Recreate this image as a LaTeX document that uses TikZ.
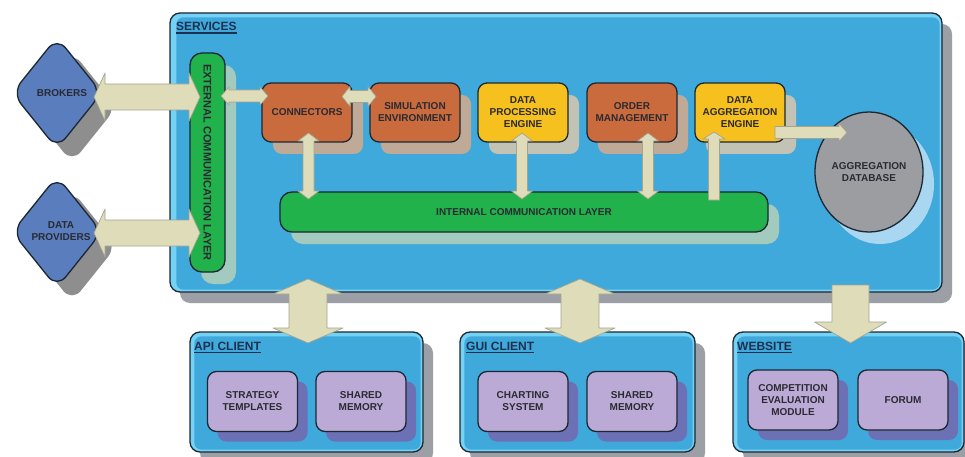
\documentclass[tikz,border=0pt]{standalone}
\usepackage{fontspec}
\setmainfont{Liberation Sans}
\usetikzlibrary{shapes.geometric,shadows,calc}
\definecolor{svcout}{HTML}{74D2F4}
\definecolor{svcin}{HTML}{40A9DB}
\definecolor{edge}{HTML}{1B2733}
\definecolor{svcsh}{HTML}{9D9FA6}
\definecolor{grn}{HTML}{22B24C}
\definecolor{grnsh}{HTML}{A3CABF}
\definecolor{orng}{HTML}{C96B3D}
\definecolor{orsh}{HTML}{BFAA98}
\definecolor{ylw}{HTML}{F6C01E}
\definecolor{ylsh}{HTML}{C3C3B5}
\definecolor{dbc}{HTML}{9C9DA1}
\definecolor{dbsh}{HTML}{A9D6F0}
\definecolor{diac}{HTML}{5A7DBD}
\definecolor{diash}{HTML}{8E8E8E}
\definecolor{prp}{HTML}{BCAAD6}
\definecolor{prpsh}{HTML}{6C70B5}
\definecolor{arrf}{HTML}{DFDDB9}
\definecolor{arre}{HTML}{A3A390}
\definecolor{txtc}{HTML}{2A2A33}
\definecolor{ttlc}{HTML}{1E3050}
\newcommand\HArrowD[6]{%
 \draw[blk] (#1,#3) -- ({#1+#6},{#3-#5}) -- ({#1+#6},{#3-#4}) -- ({#2-#6},{#3-#4}) -- ({#2-#6},{#3-#5}) -- (#2,#3) -- ({#2-#6},{#3+#5}) -- ({#2-#6},{#3+#4}) -- ({#1+#6},{#3+#4}) -- ({#1+#6},{#3+#5}) -- cycle;}
\newcommand\HArrowS[6]{%
 \draw[blk] (#1,{#3-#4}) -- ({#2-#6},{#3-#4}) -- ({#2-#6},{#3-#5}) -- (#2,#3) -- ({#2-#6},{#3+#5}) -- ({#2-#6},{#3+#4}) -- (#1,{#3+#4}) -- cycle;}
\newcommand\VArrowD[6]{%
 \draw[blk] (#3,#1) -- ({#3+#5},{#1+#6}) -- ({#3+#4},{#1+#6}) -- ({#3+#4},{#2-#6}) -- ({#3+#5},{#2-#6}) -- (#3,#2) -- ({#3-#5},{#2-#6}) -- ({#3-#4},{#2-#6}) -- ({#3-#4},{#1+#6}) -- ({#3-#5},{#1+#6}) -- cycle;}
\newcommand\VArrowS[6]{%
 \draw[blk] ({#3-#4},#1) -- ({#3-#4},{#2-#6}) -- ({#3-#5},{#2-#6}) -- (#3,#2) -- ({#3+#5},{#2-#6}) -- ({#3+#4},{#2-#6}) -- ({#3+#4},#1) -- cycle;}
\begin{document}
\begin{tikzpicture}[x=1pt,y=-1pt,
  blk/.style={fill=arrf, draw=arre, line width=0.7pt, line join=round},
  txt/.style={font=\bfseries\fontsize{10}{12}\selectfont, text=txtc, align=center, inner sep=0},
  ttl/.style={font=\bfseries\fontsize{12}{14}\selectfont, text=ttlc, inner sep=0, anchor=base west},
  boxbase/.style={draw=edge, line width=1.3pt, rounded corners=9pt, minimum width=90pt, minimum height=59pt, inner sep=0, align=center, font=\bfseries\fontsize{10}{12}\selectfont, text=txtc},
  obox/.style={boxbase, fill=orng, drop shadow={shadow xshift=11pt, shadow yshift=-12pt, fill=orsh, opacity=1}},
  ybox/.style={boxbase, fill=ylw, drop shadow={shadow xshift=11pt, shadow yshift=-12pt, fill=ylsh, opacity=1}},
  pbox/.style={boxbase, fill=prp, minimum height=60pt, drop shadow={shadow xshift=10pt, shadow yshift=-10pt, fill=prpsh, opacity=1}},
  layer/.style={draw=edge, line width=1.3pt, fill=grn, rounded corners=12pt, inner sep=0, drop shadow={shadow xshift=11pt, shadow yshift=-12pt, fill=grnsh, opacity=1}},
  dia/.style={diamond, draw=edge, line width=1.3pt, fill=diac, rounded corners=14pt, minimum width=90pt, minimum height=112pt, inner sep=0, drop shadow={shadow xshift=15pt, shadow yshift=-14pt, fill=diash, opacity=1}},
  container/.style={draw=edge, line width=1.3pt, fill=svcout, rounded corners=10pt, inner sep=0, drop shadow={shadow xshift=10pt, shadow yshift=-11pt, fill=svcsh, opacity=1}},
  ]
\useasboundingbox[fill=white] (0,0) rectangle (965,457);

% ---------- services container
\node[container, minimum width=772pt, minimum height=279pt] (svc) at (556,152.5) {};
\fill[svcin, rounded corners=7pt] ($(svc.north west)+(7,5)$) rectangle ($(svc.south east)+(-3,-3)$);
\node[ttl] (svct) at (176,30.5) {SERVICES};
\draw[ttlc, line width=1.4pt] ($(svct.base west)+(0,2.5)$) -- ($(svct.base east)+(0,2.5)$);

% ---------- layers
\node[layer, minimum width=35pt, minimum height=219pt] (ext) at (207.5,162.5) {};
\node[txt, font=\bfseries\fontsize{11}{12}\selectfont, rotate=-90] at (ext) {EXTERNAL COMMUNICATION LAYER};
\node[layer, minimum width=488pt, minimum height=40pt, font=\bfseries\fontsize{10}{12}\selectfont, text=txtc] (int) at (524,212) {INTERNAL COMMUNICATION LAYER};

% ---------- inner boxes
\node[obox] (conn) at (307,112.5) {CONNECTORS};
\node[obox] (sim) at (415,112.5) {SIMULATION\\ENVIRONMENT};
\node[ybox] (dpe) at (523,112.5) {DATA\\PROCESSING\\ENGINE};
\node[obox] (ord) at (632,112.5) {ORDER\\MANAGEMENT};
\node[ybox] (dae) at (740,112.5) {DATA\\AGGREGATION\\ENGINE};

% ---------- database
\node[ellipse, draw=edge, line width=1.3pt, fill=dbc, minimum width=108pt, minimum height=120pt, inner sep=0, drop shadow={shadow xshift=11pt, shadow yshift=-12pt, fill=dbsh, opacity=1}] (db) at (869,172) {};
\node[txt] at (db) {AGGREGATION\\DATABASE};

% ---------- external actors
\node[dia] (brk) at (57,93) {};
\node[txt] at (62,93) {BROKERS};
\node[dia] (dp) at (57,232) {};
\node[txt] at (61,231.5) {DATA\\PROVIDERS};

% ---------- clients
\node[container, minimum width=233pt, minimum height=120pt] (api) at (306.5,392) {};
\fill[svcin, rounded corners=7pt] ($(api.north west)+(5,5)$) rectangle ($(api.south east)+(-3,-3)$);
\node[ttl] (apit) at (194,350) {API CLIENT};
\draw[ttlc, line width=1.4pt] ($(apit.base west)+(0,2.5)$) -- ($(apit.base east)+(0,2.5)$);
\node[pbox] (st) at (252.5,401.5) {STRATEGY\\TEMPLATES};
\node[pbox] (sm1) at (361,401.5) {SHARED\\MEMORY};

\node[container, minimum width=235pt, minimum height=120pt] (gui) at (577.5,392) {};
\fill[svcin, rounded corners=7pt] ($(gui.north west)+(5,5)$) rectangle ($(gui.south east)+(-3,-3)$);
\node[ttl] (guit) at (466,350) {GUI CLIENT};
\draw[ttlc, line width=1.4pt] ($(guit.base west)+(0,2.5)$) -- ($(guit.base east)+(0,2.5)$);
\node[pbox] (cs) at (523,401.5) {CHARTING\\SYSTEM};
\node[pbox] (sm2) at (632,401.5) {SHARED\\MEMORY};

\node[container, minimum width=231pt, minimum height=120pt] (web) at (848.5,392) {};
\fill[svcin, rounded corners=7pt] ($(web.north west)+(5,5)$) rectangle ($(web.south east)+(-3,-3)$);
\node[ttl] (webt) at (737,350) {WEBSITE};
\draw[ttlc, line width=1.4pt] ($(webt.base west)+(0,2.5)$) -- ($(webt.base east)+(0,2.5)$);
\node[pbox] (cem) at (793,400) {COMPETITION\\EVALUATION\\MODULE};
\node[pbox] (frm) at (903,400) {FORUM};

% ---------- arrows
\HArrowD{94}{200}{97}{13}{24}{11}
\HArrowD{94}{200}{233}{13}{24}{11}
\HArrowD{221}{268}{96}{6}{9}{8}
\HArrowD{342}{376}{96.5}{6}{10}{8}
\VArrowD{133}{199}{308.5}{5.5}{10.5}{8}
\VArrowD{133}{199}{522}{5.5}{10.5}{8}
\VArrowD{133}{199}{648}{5.5}{10.5}{8}
\VArrowS{200}{132}{714}{5.5}{11}{-7}
\HArrowS{775}{847}{132.5}{6}{9}{8}
\VArrowD{279}{343}{308}{19}{35}{15}
\VArrowD{279}{343}{580}{19}{35}{15}
\VArrowS{285}{343}{850.5}{18.5}{36}{21}
\end{tikzpicture}
\end{document}
